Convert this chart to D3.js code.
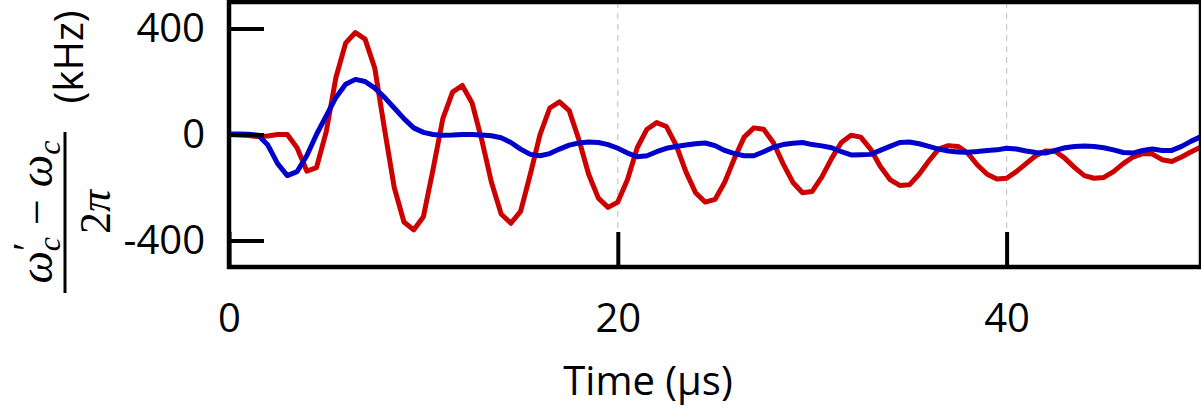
<!DOCTYPE html>
<meta charset="utf-8">
<style>
body { margin: 0; background: #fff; }
.axis text { font-family: "Open Sans", sans-serif; font-size: 40px; fill: #000; }
.axis line { stroke: #000; stroke-width: 4; }
.axis path { display: none; }
.grid { stroke: #c8c8c8; stroke-width: 1.2; stroke-dasharray: 6,5; }
</style>
<body>
<script src="https://cdn.jsdelivr.net/npm/d3@7"></script>
<script>

var time = d3.range(0, 101).map(function(i) { return i * 0.5; }); // 0..50 us, 0.5 us step

var red = [0, -2, -4, -8, -6, 0, 0, -50, -138, -125,
  10, 215, 345, 385, 360, 250, 20, -200, -330, -360,
  -310, -130, 60, 160, 185, 120, -20, -180, -300, -335,
  -290, -150, 0, 100, 123, 90, -20, -150, -240, -275,
  -255, -170, -50, 20, 45, 30, -40, -140, -220, -255,
  -245, -180, -90, -10, 25, 20, -30, -110, -180, -220,
  -215, -160, -90, -30, -3, -10, -55, -120, -170, -192,
  -190, -150, -100, -55, -42, -45, -70, -115, -150, -168,
  -165, -140, -110, -80, -62, -63, -90, -125, -155, -165,
  -162, -140, -110, -85, -72, -74, -95, -102, -85, -65,
  -47];

var blue = [2, 2, 1, -3, -40, -110, -155, -140, -80, 0,
  70, 140, 190, 208, 200, 175, 140, 100, 60, 25,
  8, 0, -3, -2, 0, 0, -2, -5, -12, -30,
  -55, -75, -80, -72, -55, -40, -32, -28, -30, -38,
  -52, -70, -84, -80, -65, -52, -45, -40, -35, -32,
  -42, -60, -72, -80, -80, -65, -48, -38, -33, -30,
  -38, -43, -50, -65, -77, -76, -75, -60, -45, -30,
  -28, -35, -45, -55, -62, -66, -67, -64, -60, -58,
  -52, -55, -62, -68, -70, -60, -50, -45, -43, -45,
  -50, -58, -68, -70, -60, -55, -60, -60, -45, -25,
  -8];

var xTicks = [0, 20, 40];
var yTicks = [-400, 0, 400];

var svg = d3.select("body").append("svg")
    .attr("width", 1201)
    .attr("height", 410);

var x = d3.scaleLinear().domain([0, 50]).range([229, 1201]);
var y = d3.scaleLinear().domain([-500, 500]).range([267, 2]);

// dashed grid at the x ticks
svg.selectAll(".grid")
    .data(xTicks.slice(1))
  .enter().append("line")
    .attr("class", "grid")
    .attr("x1", function(d) { return x(d); })
    .attr("x2", function(d) { return x(d); })
    .attr("y1", y(500))
    .attr("y2", y(-500) - 35);

var line = d3.line()
    .x(function(d) { return x(d[0]); })
    .y(function(d) { return y(d[1]); });

svg.append("path")
    .datum(time.map(function(t, i) { return [t, red[i]]; }))
    .attr("fill", "none")
    .attr("stroke", "#cc0000")
    .attr("stroke-width", 5)
    .attr("stroke-linejoin", "round")
    .attr("d", line);

svg.append("path")
    .datum(time.map(function(t, i) { return [t, blue[i]]; }))
    .attr("fill", "none")
    .attr("stroke", "#0000cc")
    .attr("stroke-width", 5)
    .attr("stroke-linejoin", "round")
    .attr("d", line);

svg.append("g")
    .attr("class", "axis")
    .attr("transform", "translate(0," + y(-500) + ")")
    .call(d3.axisBottom(x).tickValues(xTicks).tickSizeInner(-35).tickSizeOuter(0).tickPadding(37));

svg.append("g")
    .attr("class", "axis")
    .attr("transform", "translate(" + x(0) + ",0)")
    .call(d3.axisLeft(y).tickValues(yTicks).tickSizeInner(-35).tickSizeOuter(0).tickPadding(24)
      .tickFormat(function(d) { return d; }));

// frame
svg.append("rect")
    .attr("x", x(0))
    .attr("y", y(500))
    .attr("width", x(50) - x(0))
    .attr("height", y(-500) - y(500))
    .attr("fill", "none")
    .attr("stroke", "#000")
    .attr("stroke-width", 4.5);

svg.append("text")
    .attr("x", 648)
    .attr("y", 395)
    .attr("text-anchor", "middle")
    .style("font-family", "Open Sans, sans-serif")
    .style("font-size", "40px")
    .text("Time (\u03bcs)");

// y label: (w'_c - w_c) / 2pi  (kHz), rotated
var yl = svg.append("g").attr("transform", "rotate(-90)");

var num = yl.append("text")
    .attr("x", -212)
    .attr("y", 52)
    .attr("text-anchor", "middle")
    .style("font-family", "Liberation Serif, serif")
    .style("font-size", "46px");
num.append("tspan").style("font-style", "italic").text("\u03c9");
num.append("tspan").attr("dy", -12).style("font-size", "40px").text("\u2032");
num.append("tspan").attr("dx", -9).attr("dy", 20).style("font-style", "italic").style("font-size", "32px").text("c");
num.append("tspan").attr("dx", 12).attr("dy", -8).text("\u2212");
num.append("tspan").attr("dx", 12).style("font-style", "italic").text("\u03c9");
num.append("tspan").attr("dy", 8).style("font-style", "italic").style("font-size", "32px").text("c");

yl.append("line")
    .attr("x1", -293)
    .attr("x2", -132)
    .attr("y1", 65)
    .attr("y2", 65)
    .attr("stroke", "#000")
    .attr("stroke-width", 3);

var den = yl.append("text")
    .attr("x", -212)
    .attr("y", 110)
    .attr("text-anchor", "middle")
    .style("font-family", "Liberation Serif, serif")
    .style("font-size", "44px");
den.append("tspan").text("2");
den.append("tspan").style("font-style", "italic").text("\u03c0");

yl.append("text")
    .attr("x", -57)
    .attr("y", 83)
    .attr("text-anchor", "middle")
    .style("font-family", "Open Sans, sans-serif")
    .style("font-size", "40px")
    .text("(kHz)");

</script>
</body>
